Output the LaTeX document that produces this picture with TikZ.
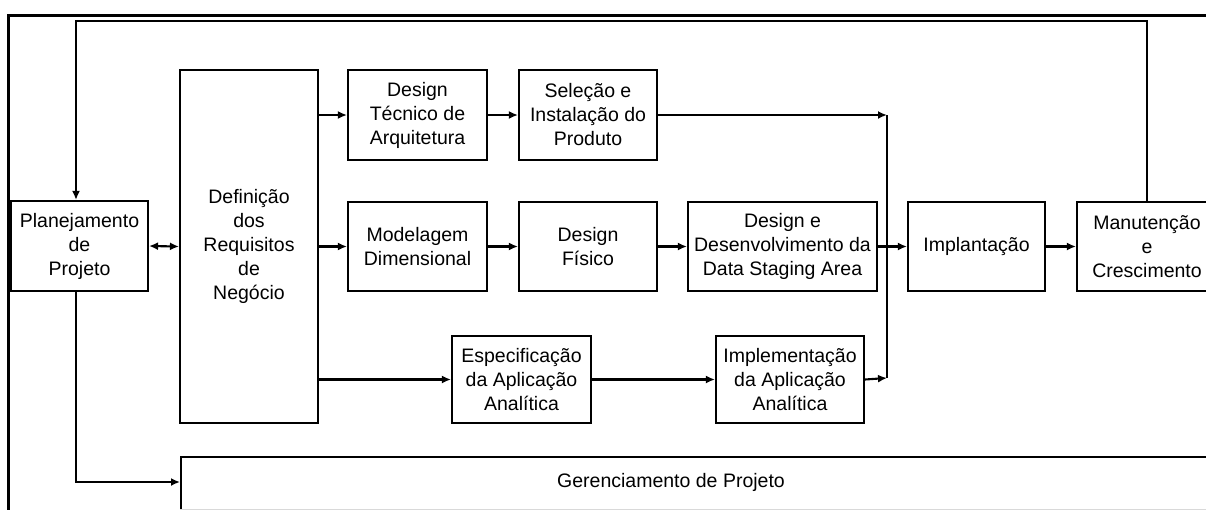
\documentclass[tikz,border=0pt]{standalone}
\usepackage{fontspec}
\setmainfont{Liberation Sans}
\usetikzlibrary{arrows.meta}
\begin{document}
\begin{tikzpicture}[x=1pt,y=-1pt,
  box/.style={draw, line width=2.1pt, inner sep=0pt, align=center,
    font=\fontsize{19.5}{24}\selectfont},
  lbl/.style={inner sep=0pt, align=center, font=\fontsize{19.5}{24}\selectfont},
  conn/.style={line width=2.1pt},
  arr/.style={conn, -{Latex[length=9pt,width=8pt]}},
  darr/.style={conn, {Latex[length=9pt,width=8pt]}-{Latex[length=9pt,width=8pt]}}
]
\useasboundingbox (0,0) rectangle (1206,509);
\clip (0,0) rectangle (1206,509);
% outer frame
\draw[line width=3pt] (1210,15) -- (8,15) -- (8,515);
% nodes
\node[box, minimum width=137pt, minimum height=90pt] (plan) at (79.5,246) {Planejamento\\de\\Projeto};
\node[box, minimum width=138pt, minimum height=353pt] (def) at (249,246.5) {Definição\\dos\\Requisitos\\de\\Negócio};
\node[box, minimum width=139pt, minimum height=90pt] (dta) at (417.5,115) {Design\\Técnico de\\Arquitetura};
\node[box, minimum width=138pt, minimum height=90pt] (sel) at (588,115) {Seleção e\\Instalação do\\Produto};
\node[box, minimum width=139pt, minimum height=89pt] (mod) at (417.5,246.5) {Modelagem\\Dimensional};
\node[box, minimum width=138pt, minimum height=89pt] (fis) at (588,246.5) {Design\\Físico};
\node[box, minimum width=189pt, minimum height=89pt] (dsa) at (782.5,246.5) {Design e\\Desenvolvimento da\\Data Staging Area};
\node[box, minimum width=139pt, minimum height=87pt] (esp) at (521.5,379.5) {Especificação\\da Aplicação\\Analítica};
\node[box, minimum width=148pt, minimum height=87pt] (imp) at (790,379.5) {Implementação\\da Aplicação\\Analítica};
\node[box, minimum width=137pt, minimum height=89pt] (impl) at (976.5,246.5) {Implantação};
\node[box, minimum width=140pt, minimum height=89pt] (man) at (1147,246.5) {Manutenção\\e\\Crescimento};
\node[box, anchor=north west, minimum width=1060pt, minimum height=56pt] (ger) at (180,456) {};
\node[lbl] (gertxt) at (671,482) {Gerenciamento de Projeto};
\draw[black!15, line width=1.5pt] ([yshift=4pt]ger.south west) -- ([yshift=4pt]ger.south east);
% coordinates
\coordinate (fbL) at (76,21);
\coordinate (m1) at (887,115);
\coordinate (m2) at (887,378);
% connectors
\draw[darr] (plan.east) -- (def.west);
\draw[arr] (def.east |- dta.west) -- (dta.west);
\draw[arr] (def.east |- mod.west) -- (mod.west);
\draw[arr] (def.east |- esp.west) -- (esp.west);
\draw[arr] (dta.east) -- (sel.west);
\draw[arr] (mod.east) -- (fis.west);
\draw[arr] (fis.east) -- (dsa.west);
\draw[arr] (esp.east) -- (imp.west);
\draw[arr] (dsa.east) -- (impl.west);
\draw[arr] (impl.east) -- (man.west);
\draw[arr] (sel.east) -- (m1);
\draw[arr] (imp.east) -- (m2);
\draw[conn] (m1) -- (m2);
\draw[arr] (man.north) |- (fbL) -- (fbL |- plan.north);
\draw[arr] (fbL |- plan.south) |- (ger.west |- gertxt);
\end{tikzpicture}
\end{document}
